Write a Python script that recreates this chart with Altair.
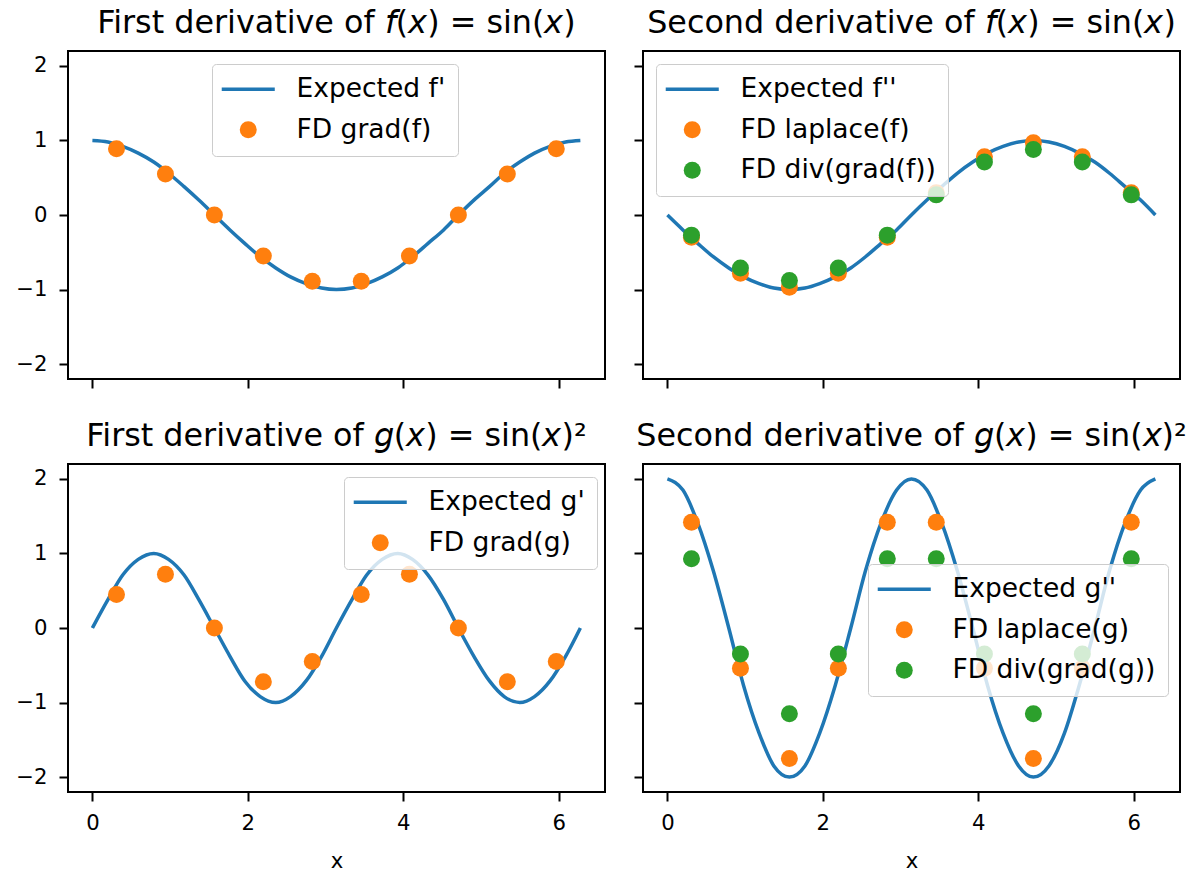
import altair as alt
import pandas as pd

BLUE = "#1f77b4"
ORANGE = "#ff7f0e"
GREEN = "#2ca02c"
FONT = "DejaVu Sans"

# sample positions of the smooth "expected" curves
x_curve = [0.00, 0.20, 0.39, 0.59, 0.79, 0.98, 1.18, 1.37, 1.57, 1.77, 1.96,
           2.16, 2.36, 2.55, 2.75, 2.95, 3.14, 3.34, 3.53, 3.73, 3.93, 4.12,
           4.32, 4.52, 4.71, 4.91, 5.11, 5.30, 5.50, 5.69, 5.89, 6.09, 6.28]
f1_expected = [1.00, 0.98, 0.92, 0.83, 0.71, 0.56, 0.38, 0.20, 0.00, -0.20, -0.38,
               -0.56, -0.71, -0.83, -0.92, -0.98, -1.00, -0.98, -0.92, -0.83, -0.71, -0.56,
               -0.38, -0.20, 0.00, 0.20, 0.38, 0.56, 0.71, 0.83, 0.92, 0.98, 1.00]
f2_expected = [0.00, -0.20, -0.38, -0.56, -0.71, -0.83, -0.92, -0.98, -1.00, -0.98, -0.92,
               -0.83, -0.71, -0.56, -0.38, -0.20, 0.00, 0.20, 0.38, 0.56, 0.71, 0.83,
               0.92, 0.98, 1.00, 0.98, 0.92, 0.83, 0.71, 0.56, 0.38, 0.20, 0.00]
g1_expected = [0.00, 0.38, 0.71, 0.92, 1.00, 0.92, 0.71, 0.38, 0.00, -0.38, -0.71,
               -0.92, -1.00, -0.92, -0.71, -0.38, 0.00, 0.38, 0.71, 0.92, 1.00, 0.92,
               0.71, 0.38, 0.00, -0.38, -0.71, -0.92, -1.00, -0.92, -0.71, -0.38, 0.00]
g2_expected = [2.00, 1.85, 1.41, 0.77, 0.00, -0.77, -1.41, -1.85, -2.00, -1.85, -1.41,
               -0.77, 0.00, 0.77, 1.41, 1.85, 2.00, 1.85, 1.41, 0.77, 0.00, -0.77,
               -1.41, -1.85, -2.00, -1.85, -1.41, -0.77, 0.00, 0.77, 1.41, 1.85, 2.00]

# finite-difference sample points
x_pts = [0.31, 0.94, 1.57, 2.20, 2.83, 3.46, 4.08, 4.71, 5.34, 5.97]
f1_grad = [0.89, 0.55, 0.00, -0.55, -0.89, -0.89, -0.55, 0.00, 0.55, 0.89]
f2_laplace = [-0.30, -0.78, -0.97, -0.78, -0.30, 0.30, 0.78, 0.97, 0.78, 0.30]
f2_divgrad = [-0.27, -0.71, -0.88, -0.71, -0.27, 0.27, 0.71, 0.88, 0.71, 0.27]
g1_grad = [0.45, 0.72, 0.00, -0.72, -0.45, 0.45, 0.72, 0.00, -0.72, -0.45]
g2_laplace = [1.42, -0.54, -1.75, -0.54, 1.42, 1.42, -0.54, -1.75, -0.54, 1.42]
g2_divgrad = [0.93, -0.35, -1.15, -0.35, 0.93, 0.93, -0.35, -1.15, -0.35, 0.93]

x_ticks = [0, 2, 4, 6]
y_ticks = [-2, -1, 0, 1, 2]
x_domain = [-0.314, 6.597]
y_domain = [-2.2, 2.2]

SYM_SIZE = 289
LINE_PATH = "M-3.12,-0.2L3.12,-0.2L3.12,0.2L-3.12,0.2Z"

W, H = 537, 328


def panel(title, curve_name, curve_y, pt_series, lx, ly, show_x, show_y):
    names = [curve_name] + [n for n, _ in pt_series]
    colors = [BLUE, ORANGE, GREEN][: len(names)]
    shapes = [LINE_PATH] + ["circle"] * (len(names) - 1)
    curve_df = pd.DataFrame({"x": x_curve, "y": curve_y})
    pts_df = pd.concat(
        [pd.DataFrame({"x": x_pts, "y": v, "series": n}) for n, v in pt_series],
        ignore_index=True,
    )
    xenc = alt.X(
        "x:Q",
        scale=alt.Scale(domain=x_domain, nice=False, zero=False),
        axis=alt.Axis(values=x_ticks, labels=show_x, title="x" if show_x else None),
    )
    yenc = alt.Y(
        "y:Q",
        scale=alt.Scale(domain=y_domain, nice=False, zero=False),
        axis=alt.Axis(values=y_ticks, labels=show_y, title=None),
    )
    cscale = alt.Scale(domain=names, range=colors)
    sscale = alt.Scale(domain=names, range=shapes)
    leg = alt.Legend(title=None, orient="none", legendX=lx, legendY=ly)
    line = alt.Chart(curve_df).mark_line(
        color=BLUE, strokeWidth=3.5, interpolate="monotone"
    ).encode(x=xenc, y=yenc)
    pts = alt.Chart(pts_df).mark_point(filled=True, size=SYM_SIZE, opacity=1).encode(
        x=xenc, y=yenc,
        color=alt.Color("series:N", scale=cscale, legend=leg),
        shape=alt.Shape("series:N", scale=sscale, legend=leg),
    )
    return alt.layer(line, pts, title=alt.Title(title)).properties(width=W, height=H)


tl = panel("First derivative of 𝘧(𝘹) = sin(𝘹)", "Expected f'", f1_expected,
           [("FD grad(f)", f1_grad)], 144, 13, False, True)
tr = panel("Second derivative of 𝘧(𝘹) = sin(𝘹)", "Expected f''", f2_expected,
           [("FD laplace(f)", f2_laplace), ("FD div(grad(f))", f2_divgrad)], 13, 13, False, False)
bl = panel("First derivative of 𝘨(𝘹) = sin(𝘹)²", "Expected g'", g1_expected,
           [("FD grad(g)", g1_grad)], 276, 13, True, True)
br = panel("Second derivative of 𝘨(𝘹) = sin(𝘹)²", "Expected g''", g2_expected,
           [("FD laplace(g)", g2_laplace), ("FD div(grad(g))", g2_divgrad)], 225, 100, True, False)

chart = alt.concat(
    tl, tr, bl, br, columns=2, spacing={"row": 85, "column": 38}, bounds="flush"
).resolve_scale(
    color="independent", shape="independent"
).resolve_legend(
    color="independent", shape="independent"
)

chart = chart.properties(
    padding={"left": 14, "top": 7, "right": 0, "bottom": 0},
    background="white",
).configure_view(
    stroke="#000000", strokeWidth=2,
).configure_axis(
    domain=False, grid=False,
    tickColor="#000000", tickWidth=2, tickSize=9,
    labelFont=FONT, labelFontSize=21.2, labelColor="#000000",
    titleFont=FONT, titleFontSize=21.2, titleColor="#000000", titleFontWeight="normal",
).configure_axisX(
    labelPadding=11, titlePadding=17,
).configure_axisY(
    labelPadding=12,
).configure_title(
    font=FONT, fontSize=31.8, fontWeight="normal", color="#000000",
    offset=11, anchor="middle", baseline="alphabetic",
).configure_legend(
    labelFont=FONT, labelFontSize=26.5, labelColor="#000000", labelLimit=500,
    symbolSize=SYM_SIZE, symbolStrokeWidth=0,
    fillColor="rgba(255,255,255,0.8)", strokeColor="#cccccc", cornerRadius=4,
    padding=12, rowPadding=13.5, labelOffset=35, symbolOffset=11,
)

chart.save("out.html", embed_options={"renderer": "svg", "actions": False})
